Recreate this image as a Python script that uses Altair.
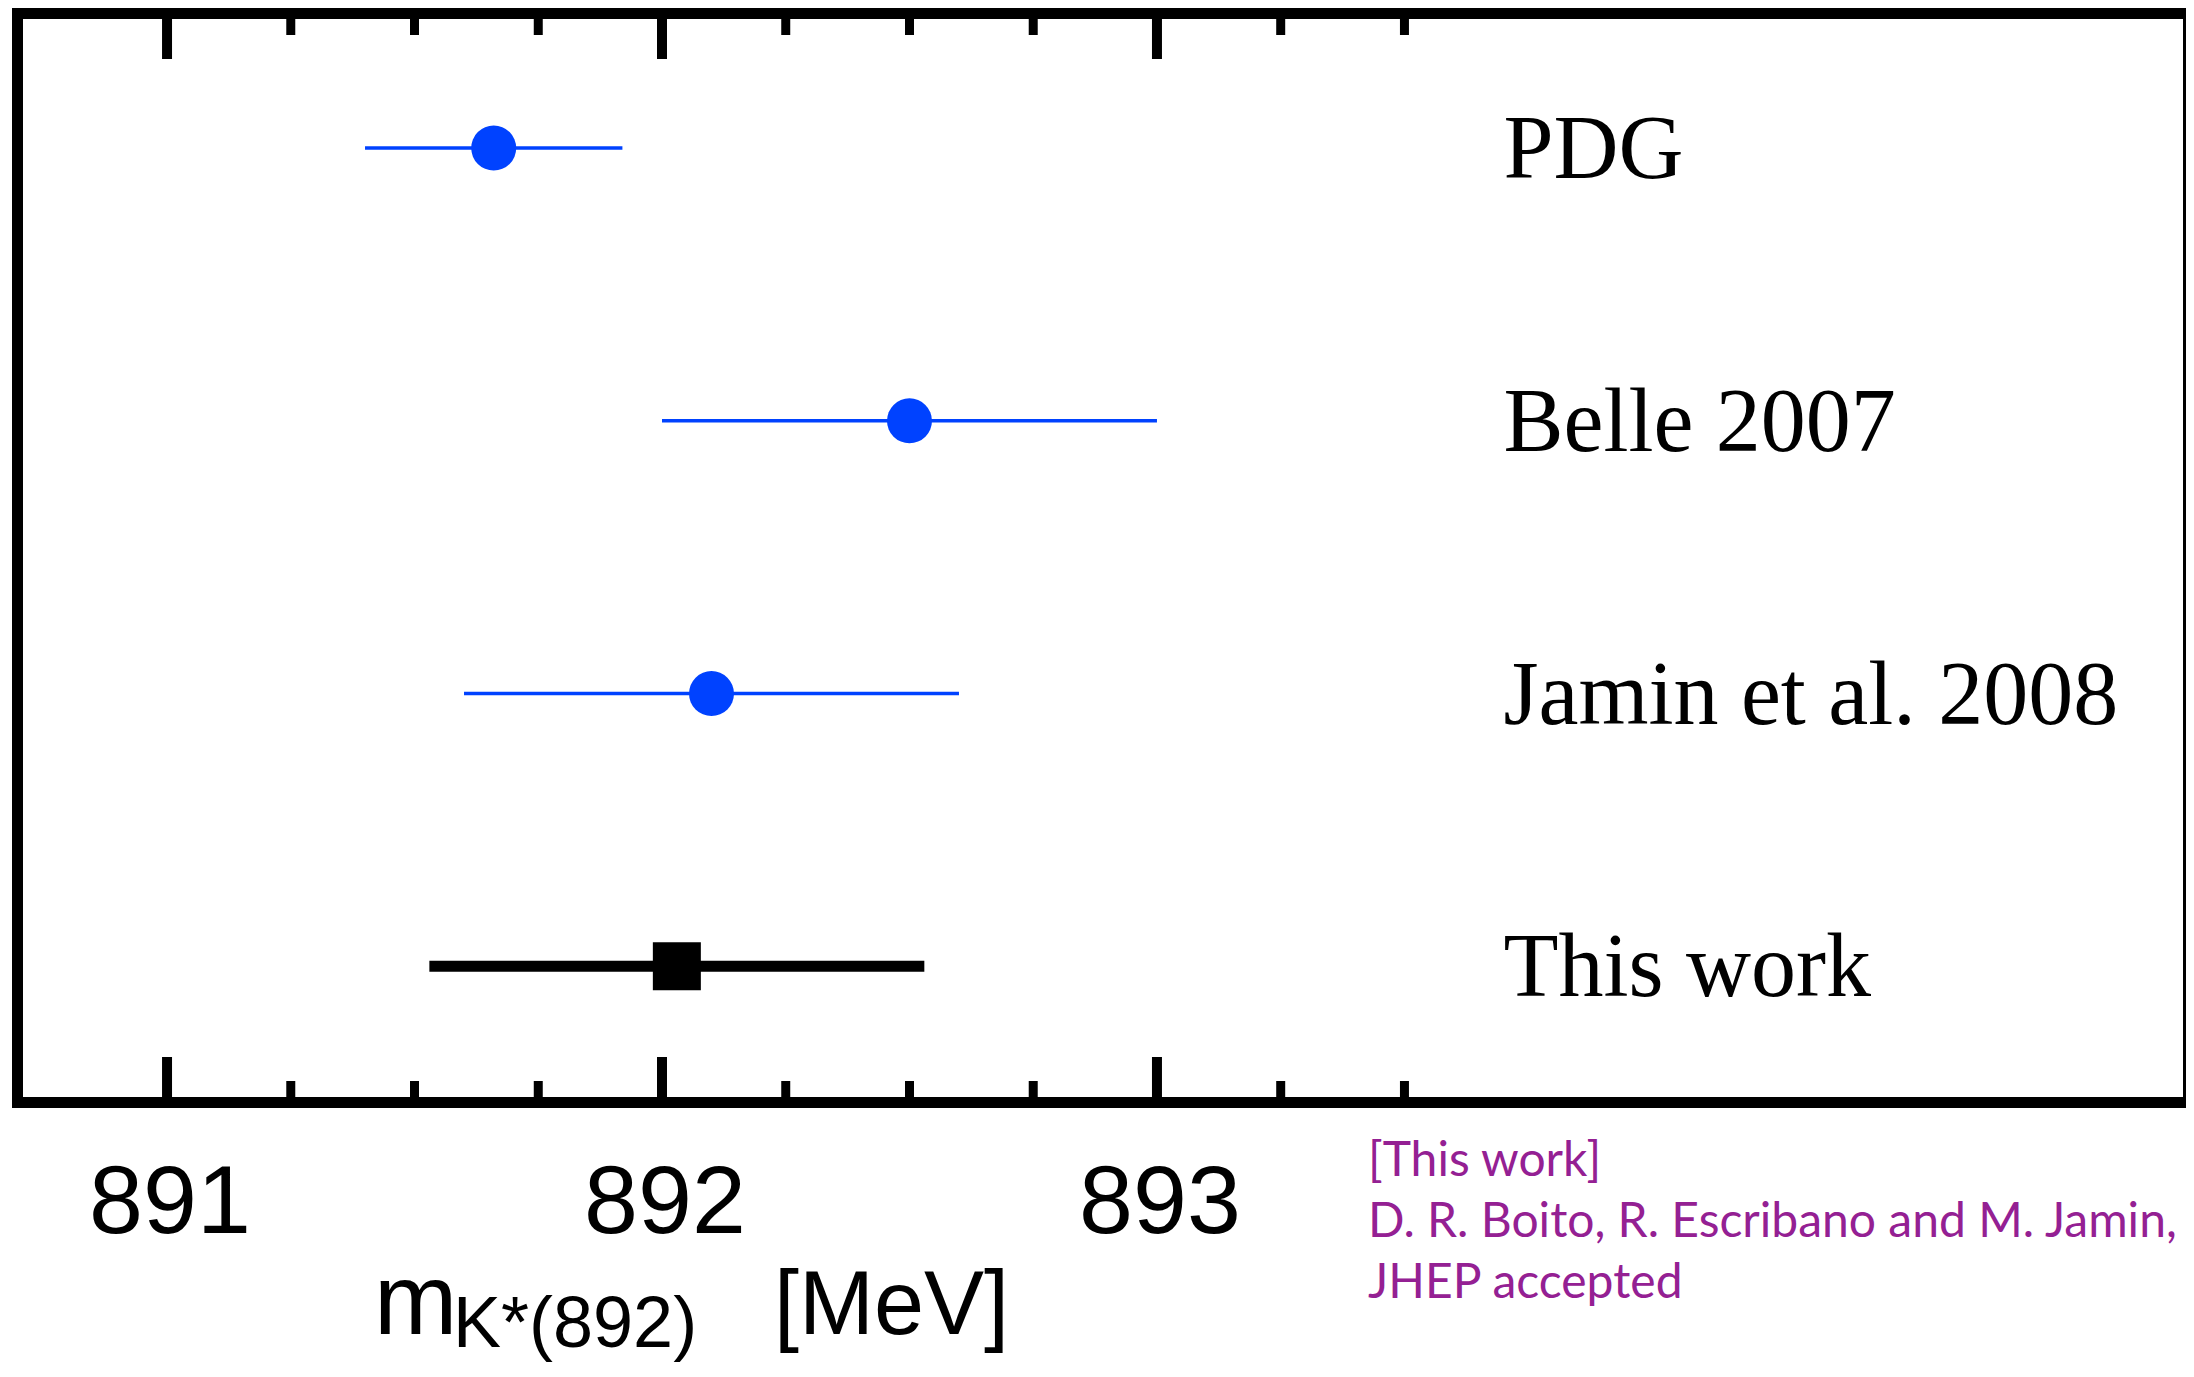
import altair as alt
import pandas as pd

# ---- data ----
labels = ["PDG", "Belle 2007", "Jamin et al. 2008", "This work"]
rows = [1, 2, 3, 4]
centers = [891.66, 892.50, 892.10, 892.03]
errors = [0.26, 0.50, 0.50, 0.50]
kinds = ["other", "other", "other", "this"]

minor_ticks = [891.25, 891.5, 891.75, 892.25, 892.5, 892.75, 893.25, 893.5]
major_ticks = [891.0, 892.0, 893.0]
major_tick_labels = ["891", "892", "893"]

note_lines = ["[This work]", "D. R. Boito, R. Escribano and M. Jamin,", "JHEP accepted"]
label_x = 893.70

# ---- layout / style ----
W, H = 2163, 1078
X_DOMAIN = [890.709, 895.079]
Y_DOMAIN = [0.527, 4.479]
BLUE = "#0042FF"
PURPLE = "#942093"

df = pd.DataFrame({
    "label": labels,
    "row": rows,
    "center": centers,
    "lo": [c - e for c, e in zip(centers, errors)],
    "hi": [c + e for c, e in zip(centers, errors)],
    "kind": kinds,
    "lx": [label_x] * len(labels),
})
major_df = pd.DataFrame({"value": major_ticks, "text": major_tick_labels})
minor_df = pd.DataFrame({"value": minor_ticks})
one = pd.DataFrame({"k": [0]})

xs = alt.Scale(domain=X_DOMAIN, nice=False, zero=False)
ys = alt.Scale(domain=Y_DOMAIN, nice=False, zero=False, reverse=True)

base = alt.Chart(df)

err_other = base.transform_filter(alt.datum.kind == "other").mark_rule(
    color=BLUE, strokeWidth=3.5
).encode(
    x=alt.X("lo:Q", scale=xs, axis=None), x2="hi:Q",
    y=alt.Y("row:Q", scale=ys, axis=None),
)
err_this = base.transform_filter(alt.datum.kind == "this").mark_rule(
    color="black", strokeWidth=11
).encode(
    x=alt.X("lo:Q", scale=xs, axis=None), x2="hi:Q",
    y=alt.Y("row:Q", scale=ys, axis=None),
)
pts_other = base.transform_filter(alt.datum.kind == "other").mark_point(
    shape="circle", filled=True, size=2025, color=BLUE, opacity=1
).encode(
    x=alt.X("center:Q", scale=xs, axis=None),
    y=alt.Y("row:Q", scale=ys, axis=None),
)
pts_this = base.transform_filter(alt.datum.kind == "this").mark_point(
    shape="square", filled=True, size=2304, color="black", opacity=1
).encode(
    x=alt.X("center:Q", scale=xs, axis=None),
    y=alt.Y("row:Q", scale=ys, axis=None),
)
series_text = base.mark_text(
    align="left", baseline="alphabetic", dy=30,
    font="Liberation Serif", fontSize=90, color="black"
).encode(
    x=alt.X("lx:Q", scale=xs, axis=None),
    y=alt.Y("row:Q", scale=ys, axis=None),
    text="label:N",
)

# ticks (inward, top and bottom)
def tick_layer(data, y0, y1, width):
    return alt.Chart(data).mark_rule(color="black", strokeWidth=width).encode(
        x=alt.X("value:Q", scale=xs, axis=None),
        y=alt.value(y0), y2=alt.value(y1),
    )

ticks = [
    tick_layer(major_df, 0, 40, 10),
    tick_layer(major_df, H - 40, H, 10),
    tick_layer(minor_df, 0, 16, 9),
    tick_layer(minor_df, H - 16, H, 9),
]

tick_text = alt.Chart(major_df).mark_text(
    align="center", baseline="alphabetic", dx=3,
    font="Liberation Sans", fontSize=97, color="black"
).encode(
    x=alt.X("value:Q", scale=xs, axis=None),
    y=alt.value(H + 136),
    text="text:N",
)

# frame
def frame(x0, x1, y0, y1, width):
    return alt.Chart(one).mark_rule(color="black", strokeWidth=width).encode(
        x=alt.value(x0), x2=alt.value(x1), y=alt.value(y0), y2=alt.value(y1)
    )

frames = [
    frame(-11, W, -5.5, -5.5, 11),          # top
    frame(-11, W, H + 5.5, H + 5.5, 11),    # bottom
    frame(-5.5, -5.5, -11, H + 11, 11),     # left
    frame(W - 1.5, W - 1.5, -11, H + 11, 3),  # right (cut by edge)
]

# axis title pieces
def label_text(txt, x, y, size, font="Liberation Sans", color="black"):
    return alt.Chart(one).mark_text(
        text=txt, align="left", baseline="alphabetic",
        font=font, fontSize=size, color=color
    ).encode(x=alt.value(x), y=alt.value(y))

title_m = label_text("m", 351, H + 237, 100)
title_sub = label_text("K*(892)", 430, H + 250, 72)
title_unit = label_text("[MeV]", 751, H + 237, 90)

note = alt.Chart(one).mark_text(
    text=note_lines, align="left", baseline="alphabetic", lineHeight=61,
    font="Lato", fontSize=48, color=PURPLE
).encode(x=alt.value(1345), y=alt.value(H + 79))

chart = alt.layer(
    *frames, *ticks, err_other, err_this, pts_other, pts_this, series_text,
    tick_text, title_m, title_sub, title_unit, note
).properties(
    width=W, height=H,
    padding={"left": 15, "top": 11, "right": 0, "bottom": 266},
    autosize=alt.AutoSizeParams(type="none"),
    background="white",
).configure_view(stroke=None)

chart.save("out.html", embed_options={"renderer": "svg", "actions": False})
